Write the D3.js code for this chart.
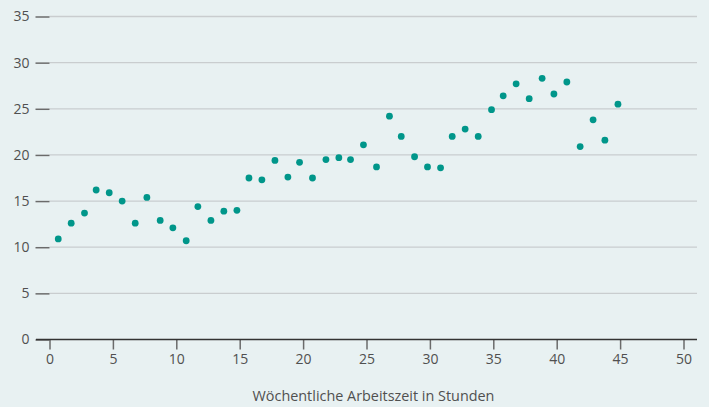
<!DOCTYPE html>
<html lang="de">
<head>
  <meta charset="utf-8" />
  <title>Arbeitszeit</title>
  <script src="https://cdn.jsdelivr.net/npm/d3@7"></script>
  <style>
    html, body { margin:0; padding:0; background:#e8f1f2; }
    svg text { font-family:"Open Sans", "Noto Sans", sans-serif; fill:#505050; }
  </style>
</head>
<body>
<div id="chart"></div>
<script>
// --- data --------------------------------------------------------------
const hours = [0.69, 1.71, 2.76, 3.68, 4.71, 5.73, 6.76, 7.68, 8.73, 9.73,
  10.78, 11.70, 12.73, 13.75, 14.78, 15.73, 16.75, 17.78, 18.80, 19.72,
  20.74, 21.80, 22.82, 23.74, 24.76, 25.79, 26.81, 27.74, 28.79, 29.81,
  30.84, 31.76, 32.78, 33.81, 34.86, 35.78, 36.80, 37.83, 38.85, 39.78,
  40.80, 41.85, 42.87, 43.80, 44.83];
const values = [10.9, 12.6, 13.7, 16.2, 15.9, 15.0, 12.6, 15.4, 12.9, 12.1,
  10.7, 14.4, 12.9, 13.9, 14.0, 17.5, 17.3, 19.4, 17.6, 19.2,
  17.5, 19.5, 19.7, 19.5, 21.1, 18.7, 24.2, 22.0, 19.8, 18.7,
  18.6, 22.0, 22.8, 22.0, 24.9, 26.4, 27.7, 26.1, 28.3, 26.6,
  27.9, 20.9, 23.8, 21.6, 25.5];
const xTicks = [0, 5, 10, 15, 20, 25, 30, 35, 40, 45, 50];
const yTicks = [0, 5, 10, 15, 20, 25, 30, 35];
const xTitle = "Wöchentliche Arbeitszeit in Stunden";

// --- layout ------------------------------------------------------------
const W = 709, H = 407;
const svg = d3.select("#chart").append("svg")
  .attr("width", W).attr("height", H);

const x = d3.scaleLinear().domain([0, 50]).range([49.5, 683.5]);
const y = d3.scaleLinear().domain([0, 35]).range([339.5, 16.5]);
const gridRight = 697;

// gridlines
svg.append("g").selectAll("line")
  .data(yTicks.filter(d => d > 0))
  .join("line")
  .attr("x1", x(0)).attr("x2", gridRight)
  .attr("y1", d => y(d)).attr("y2", d => y(d))
  .attr("stroke", "#c9cdcf").attr("stroke-width", 1.3);

// y axis: short ticks + labels
const yAxis = d3.axisLeft(y).tickValues(yTicks).tickSize(14).tickPadding(6);
const yg = svg.append("g").attr("transform", `translate(${x(0)},0)`).call(yAxis);
yg.select(".domain").remove();
yg.selectAll(".tick line").attr("stroke", "#6b6b6b").attr("stroke-width", 1.5);
yg.selectAll(".tick text").style("font-size", "14px").attr("fill", "#505050");

// x axis
const xAxis = d3.axisBottom(x).tickValues(xTicks).tickSize(10).tickPadding(5);
const xg = svg.append("g").attr("transform", `translate(0,${y(0)})`).call(xAxis);
xg.select(".domain").remove();
xg.selectAll(".tick line").attr("stroke", "#6b6b6b").attr("stroke-width", 1.5);
xg.selectAll(".tick text").style("font-size", "14px").attr("fill", "#505050");

// baseline
svg.append("line")
  .attr("x1", 36).attr("x2", gridRight)
  .attr("y1", y(0)).attr("y2", y(0))
  .attr("stroke", "#333").attr("stroke-width", 1.5);

// points
svg.append("g").selectAll("circle")
  .data(hours.map((h, i) => ({h, v: values[i]})))
  .join("circle")
  .attr("cx", d => x(d.h))
  .attr("cy", d => y(d.v))
  .attr("r", 3.4)
  .attr("fill", "#00968a");

// axis title
svg.append("text")
  .attr("x", 373.5).attr("y", 401)
  .attr("text-anchor", "middle")
  .style("font-size", "14.4px")
  .text(xTitle);
</script>
</body>
</html>
